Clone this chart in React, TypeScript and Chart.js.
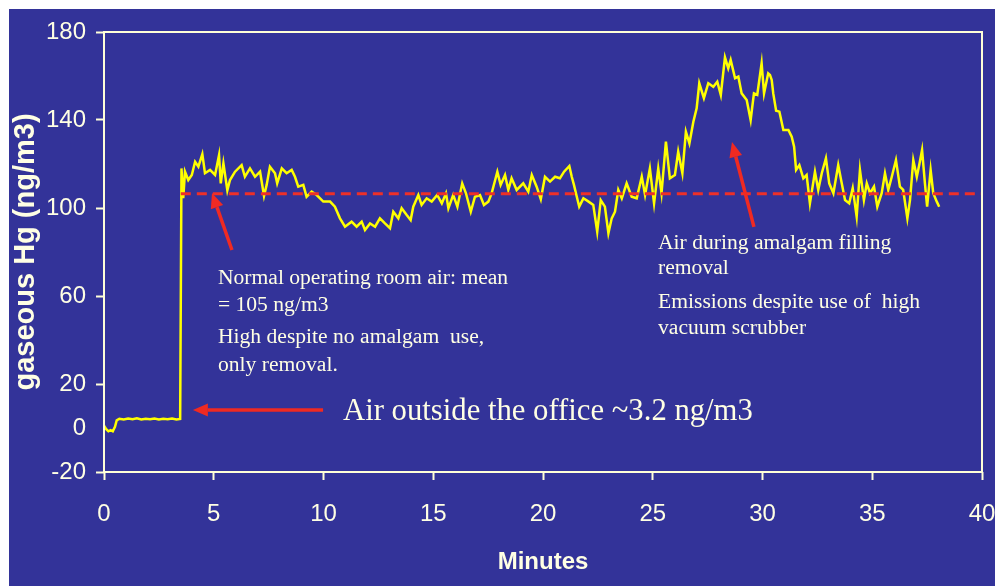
import React, { useEffect, useRef } from 'react';
import { Chart, registerables } from 'chart.js';

Chart.register(...registerables);

// ---------- data ----------
const minutes = [
  0.0, 0.1, 0.2, 0.3, 0.4, 0.5, 0.58, 0.7, 0.9, 1.1, 1.3, 1.5, 1.7, 1.9, 2.1, 2.3, 2.5, 2.7, 2.9, 3.1, 3.3, 3.47,
  3.53, 3.61, 3.69, 3.84, 4.0, 4.15, 4.3, 4.48, 4.6, 4.83, 5.06, 5.24, 5.32, 5.44, 5.62, 5.74, 5.97, 6.27, 6.42,
  6.65, 6.88, 7.11, 7.29, 7.41, 7.56, 7.79, 7.89, 8.1, 8.32, 8.55, 8.7, 8.85, 9.08, 9.23, 9.46, 9.69, 9.99,
  10.3, 10.52, 10.75, 10.98, 11.28, 11.51, 11.74, 11.89, 12.12, 12.35, 12.57, 12.8, 13.03, 13.18, 13.41, 13.56,
  13.79, 13.97, 14.09, 14.32, 14.47, 14.7, 14.93, 15.18, 15.39, 15.58, 15.69, 15.91, 16.1, 16.32, 16.49, 16.71,
  16.9, 17.13, 17.31, 17.51, 17.66, 17.92, 18.07, 18.27, 18.42, 18.57, 18.8, 19.1, 19.33, 19.49, 19.71, 19.9,
  20.09, 20.32, 20.55, 20.77, 20.96, 21.2, 21.31, 21.41, 21.54, 21.65, 21.84, 22.06, 22.29, 22.47, 22.63, 22.82,
  22.98, 23.13, 23.28, 23.43, 23.59, 23.81, 24.04, 24.27, 24.5, 24.65, 24.87, 25.06, 25.25, 25.4, 25.6, 25.78,
  26.01, 26.16, 26.35, 26.51, 26.67, 26.85, 27.0, 27.12, 27.33, 27.53, 27.76, 27.94, 28.1, 28.29, 28.44, 28.55,
  28.75, 28.9, 29.05, 29.28, 29.46, 29.61, 29.76, 29.96, 30.07, 30.26, 30.34, 30.42, 30.49, 30.62, 30.77, 30.95,
  31.18, 31.33, 31.44, 31.53, 31.68, 31.86, 32.01, 32.16, 32.39, 32.54, 32.7, 32.89, 33.04, 33.23, 33.45, 33.61,
  33.76, 33.95, 34.11, 34.29, 34.44, 34.62, 34.75, 34.9, 35.08, 35.23, 35.43, 35.58, 35.73, 35.89, 36.08, 36.26,
  36.41, 36.6, 36.72, 36.87, 37.03, 37.14, 37.27, 37.4, 37.5, 37.66, 37.78, 37.94, 38.05,
];

const hgValues = [
  1.0, -0.5, -1.5, -1.0, -1.5, 0.5, 3.5, 4.2, 3.9, 4.3, 4.0, 4.4, 3.9, 4.2, 4.0, 4.3, 3.9, 4.2, 4.0, 4.3, 3.9, 4.1,
  118, 104.5, 116.5, 112.7, 115, 121, 118.8, 124.5, 115.8, 117.3, 115, 124, 111.2, 120.3, 108, 112.7, 116.5, 119.5, 114.2,
  118, 114.2, 116.5, 105.5, 110.5, 118.8, 115.8, 111.2, 118, 115.8, 117.3, 114.2, 109.7, 110.5, 105.1, 107.4, 105.9, 102.9,
  102.9, 100.6, 95.3, 91.5, 93.8, 91.5, 93.8, 90, 93, 91.5, 95.3, 93, 90.8, 98.3, 95.3, 99.9,
  96.8, 94.5, 100.6, 105.9, 101.4, 104.4, 102.9, 105.9, 102.1, 106.7, 99.9, 105.9, 100.6, 111.2, 106.7, 98.3,
  105.1, 105.9, 101.4, 102.9, 106.7, 116.5, 110.5, 115, 108.2, 113.5, 108.2, 111.2, 107.4, 115, 109.7, 104,
  114.2, 112, 114.2, 113.5, 116.5, 119.1, 114.2, 110.5, 105.1, 100.6, 104.4, 103, 101.4, 89.2, 103.6, 100.6,
  88.5, 95.3, 98.3, 108.2, 104.4, 111.2, 105.1, 104.4, 114.2, 105.9, 118, 102.1, 118, 106.7, 130.2, 113.5,
  115, 125.6, 115.8, 134.7, 129.4, 139.2, 145.3, 156.7, 149.9, 156.7, 155.1, 157.4, 151.4, 168.5, 163.5, 167.3,
  159, 159.7, 152.1, 149.1, 140, 152.1, 151.4, 165.8, 152.1, 161.2, 160.5, 158.2, 152.1, 144.2, 143.8, 135.5,
  135.5, 132.4, 127.9, 117.3, 119.5, 113.5, 115, 102.1, 116.5, 108.2, 115.8, 122.6, 111.2, 106.7, 119.5, 111.2,
  103.6, 102.1, 109, 96, 117.3, 103.6, 111.2, 106.7, 109.7, 100.6, 106.7, 115.8, 108.2, 114.2, 121.8, 109.7,
  108.2, 95.3, 103.6, 121.8, 114.2, 119.5, 126.4, 111.2, 100.6, 117.3, 106.7, 102.9, 100.6,
];

const meanStartMinute = 3.5;
const meanEndMinute = 40;
const meanLevel = 106.5;

const xTickValues = [0, 5, 10, 15, 20, 25, 30, 35, 40];
const yTickValues = [-20, 0, 20, 60, 100, 140, 180];

const xTitle = 'Minutes';
const yTitle = 'gaseous Hg (ng/m3)';

const normalNote = ['Normal operating room air: mean', '= 105 ng/m3', 'High despite no amalgam  use,', 'only removal.'];
const removalNote = ['Air during amalgam filling', 'removal', 'Emissions despite use of  high', 'vacuum scrubber'];
const outsideNote = 'Air outside the office ~3.2 ng/m3';

// ---------- layout / style (data-space anchors for annotations) ----------
const BG = '#333399';
const CREAM = '#FFFFD8';
const TEXT = '#FFFFE4';
const YELLOW = '#FFFF00';
const RED = '#EE3028';
const ARROW_RED = '#F02A22';

const notePlacement = {
  normal: { x: 5.19, ys: [68.2, 55.9, 41.4, 28.6] },
  removal: { x: 25.24, ys: [84.1, 72.7, 57.3, 45.5] },
  outside: { x: 10.89, y: 7.3 },
};

const arrowPlacement = [
  { from: [5.83, 80.9], to: [4.92, 106.8] },
  { from: [29.61, 91.4], to: [28.61, 130.0] },
  { from: [9.98, 8.2], to: [4.05, 8.2] },
];

function drawArrow(ctx: CanvasRenderingContext2D, x1: number, y1: number, x2: number, y2: number) {
  const ang = Math.atan2(y2 - y1, x2 - x1);
  const head = 15;
  const half = 6.5;
  const bx = x2 - head * Math.cos(ang);
  const by = y2 - head * Math.sin(ang);
  ctx.beginPath();
  ctx.moveTo(x1, y1);
  ctx.lineTo(bx, by);
  ctx.stroke();
  ctx.beginPath();
  ctx.moveTo(x2, y2);
  ctx.lineTo(bx + half * Math.sin(ang), by - half * Math.cos(ang));
  ctx.lineTo(bx - half * Math.sin(ang), by + half * Math.cos(ang));
  ctx.closePath();
  ctx.fill();
}

const overlayPlugin = {
  id: 'overlay',
  afterDatasetsDraw(chart: any) {
    const { ctx, chartArea: a, scales } = chart;
    const xs = scales.x;
    const ys = scales.y;
    ctx.save();
    // frame
    ctx.strokeStyle = CREAM;
    ctx.lineWidth = 2;
    ctx.strokeRect(a.left, a.top, a.right - a.left, a.bottom - a.top);

    // arrows
    ctx.strokeStyle = ARROW_RED;
    ctx.fillStyle = ARROW_RED;
    ctx.lineWidth = 3.5;
    ctx.lineCap = 'butt';
    arrowPlacement.forEach((ar) => {
      drawArrow(
        ctx,
        xs.getPixelForValue(ar.from[0]),
        ys.getPixelForValue(ar.from[1]),
        xs.getPixelForValue(ar.to[0]),
        ys.getPixelForValue(ar.to[1])
      );
    });

    // notes
    ctx.fillStyle = TEXT;
    ctx.textAlign = 'left';
    ctx.textBaseline = 'middle';
    ctx.font = '21.6px "Liberation Serif", "Times New Roman", serif';
    normalNote.forEach((line, i) => {
      ctx.fillText(line, xs.getPixelForValue(notePlacement.normal.x), ys.getPixelForValue(notePlacement.normal.ys[i]));
    });
    removalNote.forEach((line, i) => {
      ctx.fillText(line, xs.getPixelForValue(notePlacement.removal.x), ys.getPixelForValue(notePlacement.removal.ys[i]));
    });
    ctx.font = '30.7px "Liberation Serif", "Times New Roman", serif';
    ctx.fillText(outsideNote, xs.getPixelForValue(notePlacement.outside.x), ys.getPixelForValue(notePlacement.outside.y));
    ctx.restore();
  },
};

export default function App() {
  const canvasRef = useRef<HTMLCanvasElement | null>(null);

  useEffect(() => {
    if (!canvasRef.current) return;
    const series = minutes.map((m, i) => ({ x: m, y: hgValues[i] }));
    const meanLine = [
      { x: meanStartMinute, y: meanLevel },
      { x: meanEndMinute, y: meanLevel },
    ];
    const sansTick = { family: '"Liberation Sans", Arial, sans-serif', size: 24 };
    const chart = new Chart(canvasRef.current, {
      type: 'line',
      data: {
        datasets: [
          {
            label: 'mean',
            data: meanLine,
            borderColor: RED,
            borderWidth: 3,
            borderDash: [10, 6],
            pointRadius: 0,
            fill: false,
          },
          {
            label: 'Hg',
            data: series,
            borderColor: YELLOW,
            borderWidth: 2.5,
            pointRadius: 0,
            tension: 0,
            fill: false,
          },
        ],
      },
      options: {
        animation: false,
        responsive: false,
        events: [],
        layout: { padding: { top: 23, right: 13, left: 0, bottom: 0 } },
        plugins: {
          legend: { display: false },
          tooltip: { enabled: false },
          title: { display: false },
        },
        scales: {
          x: {
            type: 'linear',
            min: 0,
            max: 40,
            border: { display: false },
            grid: {
              display: true,
              drawOnChartArea: false,
              drawTicks: true,
              tickLength: 8,
              tickColor: CREAM,
              tickWidth: 2,
              color: CREAM,
            },
            ticks: { color: TEXT, font: sansTick, padding: 20, maxRotation: 0, autoSkip: false },
            title: {
              display: true,
              text: xTitle,
              color: TEXT,
              font: { family: '"Liberation Sans", Arial, sans-serif', size: 24, weight: 'bold' },
              padding: { top: 0, bottom: 9 },
            },
            afterBuildTicks: (scale: any) => {
              scale.ticks = xTickValues.map((v) => ({ value: v }));
            },
            afterFit: (scale: any) => {
              scale.height = 114;
              scale.paddingLeft = 0;
              scale.paddingRight = 0;
            },
          },
          y: {
            type: 'linear',
            min: -20,
            max: 180,
            border: { display: false },
            grid: {
              display: true,
              drawOnChartArea: false,
              drawTicks: true,
              tickLength: 8,
              tickWidth: 2,
              tickColor: (c: any) => (c.tick && c.tick.value === 0 ? 'rgba(0,0,0,0)' : CREAM),
              color: CREAM,
            },
            ticks: { color: TEXT, font: sansTick, padding: 10, autoSkip: false },
            title: {
              display: true,
              text: yTitle,
              color: TEXT,
              font: { family: '"Liberation Sans", Arial, sans-serif', size: 29, weight: 'bold' },
              padding: { top: 0, bottom: 0 },
            },
            afterBuildTicks: (scale: any) => {
              scale.ticks = yTickValues.map((v) => ({ value: v }));
            },
            afterFit: (scale: any) => {
              scale.width = 95;
              scale.paddingTop = 0;
              scale.paddingBottom = 0;
            },
          },
        },
      },
      plugins: [overlayPlugin],
    } as any);
    return () => chart.destroy();
  }, []);

  return (
    <div
      style={{
        position: 'absolute',
        left: 9,
        top: 9,
        width: 986,
        height: 577,
        background: BG,
      }}
    >
      <canvas ref={canvasRef} width={986} height={577} style={{ display: 'block' }} />
    </div>
  );
}
